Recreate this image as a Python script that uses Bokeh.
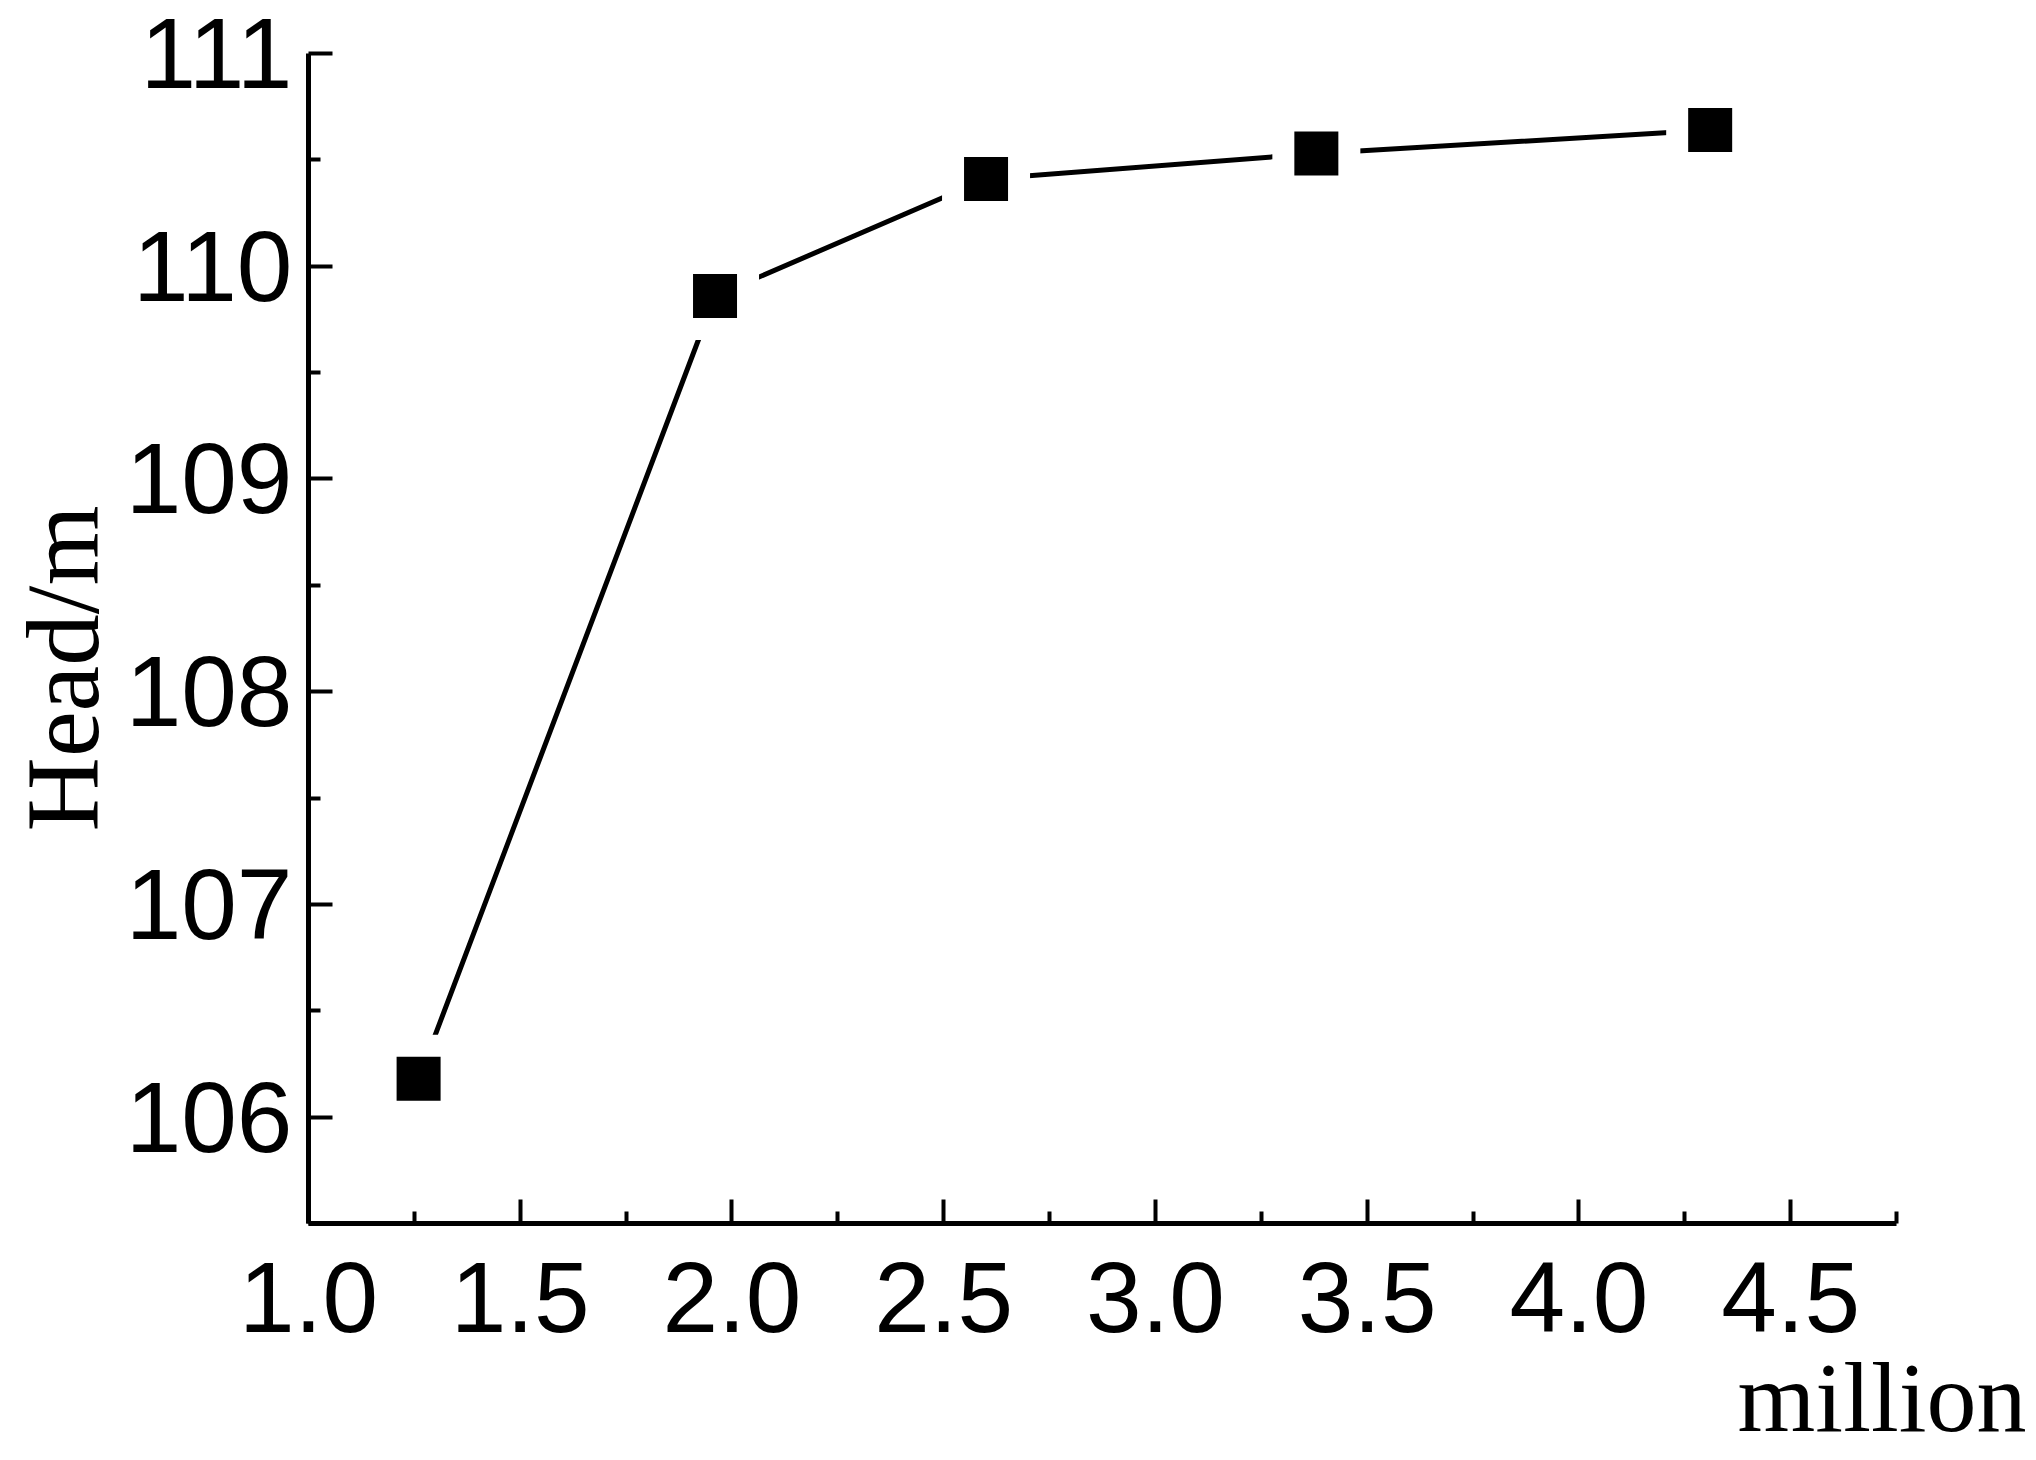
from bokeh.plotting import figure
from bokeh.models import Range1d, FixedTicker, NumeralTickFormatter, Title
from bokeh.embed import file_html
from bokeh.resources import INLINE

# data (flow in million, head in m)
flow = [1.26, 1.96, 2.60, 3.38, 4.31]
head = [106.18, 109.86, 110.41, 110.53, 110.64]

x_major = [1.0, 1.5, 2.0, 2.5, 3.0, 3.5, 4.0, 4.5]
x_minor = [1.25, 1.75, 2.25, 2.75, 3.25, 3.75, 4.25, 4.75]
y_major = [106, 107, 108, 109, 110, 111]
y_minor = [105.5, 106.5, 107.5, 108.5, 109.5, 110.5]

p = figure(width=2036, height=1460, output_backend="svg", toolbar_location=None,
           x_range=Range1d(1.0, 4.75), y_range=Range1d(105.5, 111.0),
           min_border_left=308, min_border_right=140, min_border_top=53, min_border_bottom=237)
p.outline_line_color = None
p.grid.visible = False
p.background_fill_color = "white"
p.border_fill_color = "white"

for ax in (p.xaxis[0], p.yaxis[0]):
    ax.axis_line_width = 5
    ax.axis_line_color = "black"
    ax.major_tick_line_width = 4
    ax.minor_tick_line_width = 4
    ax.major_tick_line_color = "black"
    ax.minor_tick_line_color = "black"
    ax.major_tick_out = 0
    ax.minor_tick_out = 0
    ax.major_tick_in = 24
    ax.minor_tick_in = 12
    ax.major_label_text_font = "Liberation Sans"
    ax.major_label_text_font_size = "100px"
    ax.major_label_text_color = "black"

p.xaxis[0].ticker = FixedTicker(ticks=x_major, minor_ticks=x_minor)
p.yaxis[0].ticker = FixedTicker(ticks=y_major, minor_ticks=y_minor)
p.xaxis[0].formatter = NumeralTickFormatter(format="0.0")
p.yaxis[0].formatter = NumeralTickFormatter(format="0")
p.xaxis[0].major_label_standoff = 39
p.yaxis[0].major_label_standoff = 16

p.line(flow, head, line_color="black", line_width=5)
p.scatter(flow, head, marker="square", size=66, fill_color="black",
          line_color="white", line_width=22)

# y-axis title ("Head/m"), placed in the left panel
yt = Title(text="Head/m", align="left", vertical_align="top", text_font="Liberation Serif",
           text_font_size="103px", text_font_style="normal", text_color="black")
yt.offset = 392
yt.standoff = 2
p.add_layout(yt, "left")

# x-axis title ("million"), right aligned under the axis
xt = Title(text="million", align="right", text_font="Liberation Serif",
           text_font_size="100px", text_font_style="normal", text_color="black")
try:
    xt.offset = -130
except ValueError:
    xt.offset = 0
xt.standoff = 11
p.add_layout(xt, "below")

open("out.html", "w").write(file_html(p, INLINE))
